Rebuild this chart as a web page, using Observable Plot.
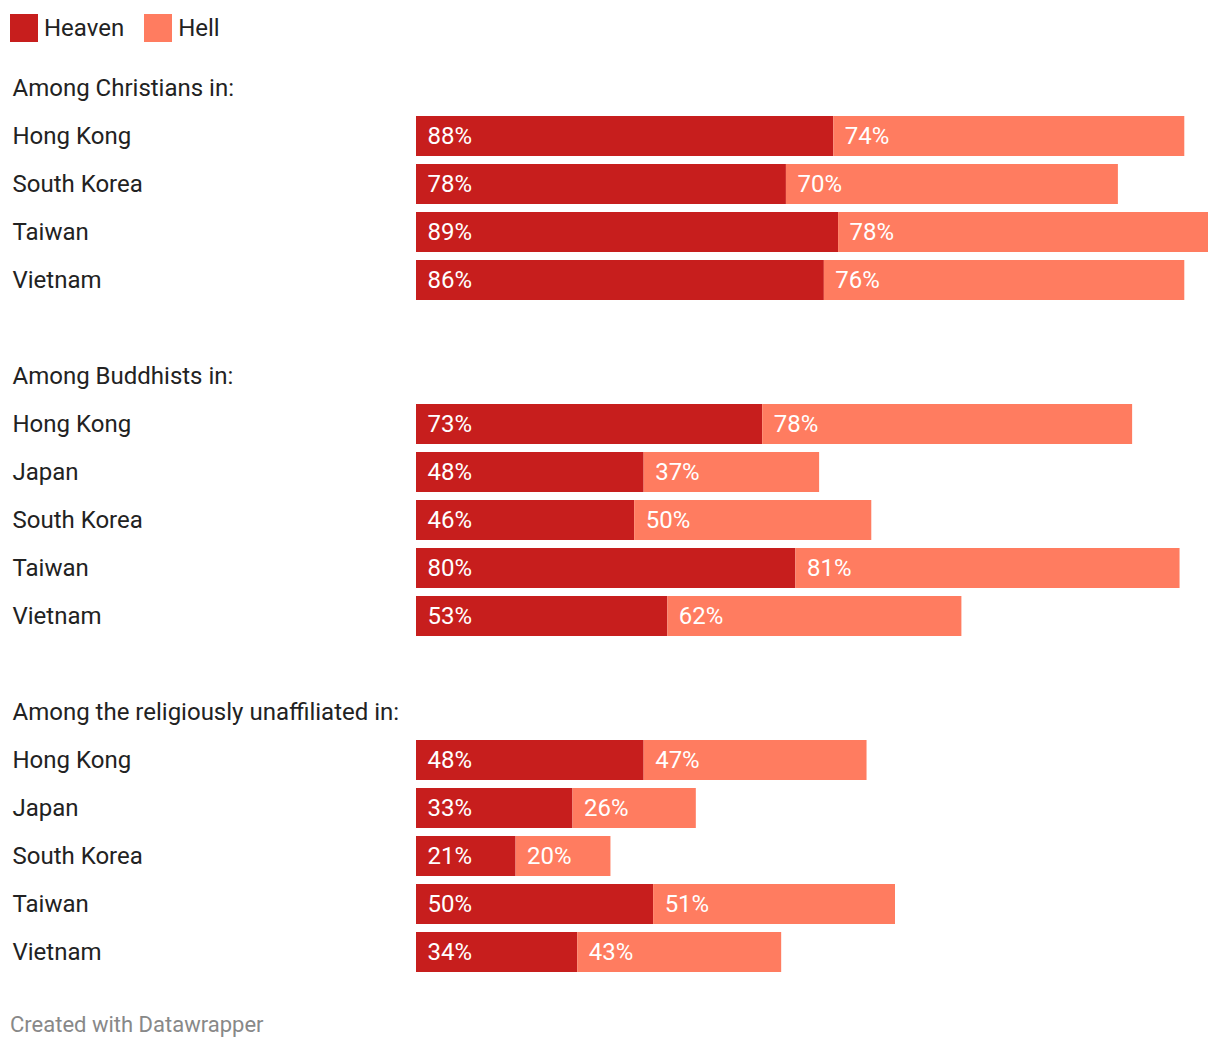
<!DOCTYPE html>
<html>
<head>
<meta charset="utf-8">
<script src="https://cdn.jsdelivr.net/npm/d3@7"></script>
<script src="https://cdn.jsdelivr.net/npm/@observablehq/plot@0.6"></script>
<style>
  body { margin: 0; background: #fff; font-family: Roboto, sans-serif; width: 1220px; }
  #legend { box-sizing: border-box; padding-top: 14px; padding-left: 10px; display: flex; align-items: center; height: 56px; font-size: 24px; color: #222; }
  #legend { align-items: flex-start; }
  .sw { width: 28px; height: 28px; display: inline-block; margin-right: 6px; }
  .item { display: flex; align-items: center; margin-right: 20px; height: 28px; }
  #chart { margin-top: 8px; }
  #caption { font-size: 22px; color: #888; padding-left: 10px; margin-top: 36px; }
</style>
</head>
<body>
<div id="legend"></div>
<div id="chart"></div>
<div id="caption">Created with Datawrapper</div>
<script>
const series = ["Heaven", "Hell"];
const colors = ["#c71e1d", "#ff7c60"];

const groupHeaders = ["Among Christians in:", "Among Buddhists in:", "Among the religiously unaffiliated in:"];
const christianCountries = ["Hong Kong", "South Korea", "Taiwan", "Vietnam"];
const christianHeaven = [88, 78, 89, 86];
const christianHell = [74, 70, 78, 76];
const buddhistCountries = ["Hong Kong", "Japan", "South Korea", "Taiwan", "Vietnam"];
const buddhistHeaven = [73, 48, 46, 80, 53];
const buddhistHell = [78, 37, 50, 81, 62];
const unaffCountries = ["Hong Kong", "Japan", "South Korea", "Taiwan", "Vietnam"];
const unaffHeaven = [48, 33, 21, 50, 34];
const unaffHell = [47, 26, 20, 51, 43];

const groups = [
  [christianCountries, christianHeaven, christianHell],
  [buddhistCountries, buddhistHeaven, buddhistHell],
  [unaffCountries, unaffHeaven, unaffHell]
];
const rows = [];
const long = [];
groups.forEach(([countries, heaven, hell], g) => {
  if (g > 0) rows.push({id: `blank${g}`, label: ""});
  rows.push({id: `h${g}`, label: groupHeaders[g]});
  countries.forEach((c, i) => {
    const id = `g${g}-${c}`;
    rows.push({id, label: c});
    long.push({row: id, type: series[0], value: heaven[i]});
    long.push({row: id, type: series[1], value: hell[i]});
  });
});

const legend = document.getElementById("legend");
series.forEach((s, i) => {
  const it = document.createElement("div");
  it.className = "item";
  it.innerHTML = `<span class="sw" style="background:${colors[i]}"></span><span>${s}</span>`;
  legend.appendChild(it);
});

const chart = Plot.plot({
  width: 1220,
  height: rows.length * 48,
  marginLeft: 416,
  marginRight: 12,
  marginTop: 0,
  marginBottom: 0,
  style: {fontFamily: "Roboto, sans-serif", fontSize: "24px", background: "#fff"},
  x: {domain: [0, 167], axis: null},
  y: {domain: rows.map(d => d.id), axis: null, paddingInner: 8/48, paddingOuter: 4/48},
  color: {domain: series, range: colors},
  marks: [
    Plot.barX(long, {x: "value", y: "row", fill: "type", order: series}),
    Plot.text(long, Plot.stackX1({x: "value", y: "row", z: "type", order: series,
      text: d => d.value + "%", textAnchor: "start", dx: 11, fill: "#fff", fontSize: 24})),
    Plot.text(rows, {y: "id", text: "label", frameAnchor: "left", dx: -404, textAnchor: "start", fill: "#222", fontSize: 24})
  ]
});
document.getElementById("chart").appendChild(chart);
</script>
</body>
</html>
